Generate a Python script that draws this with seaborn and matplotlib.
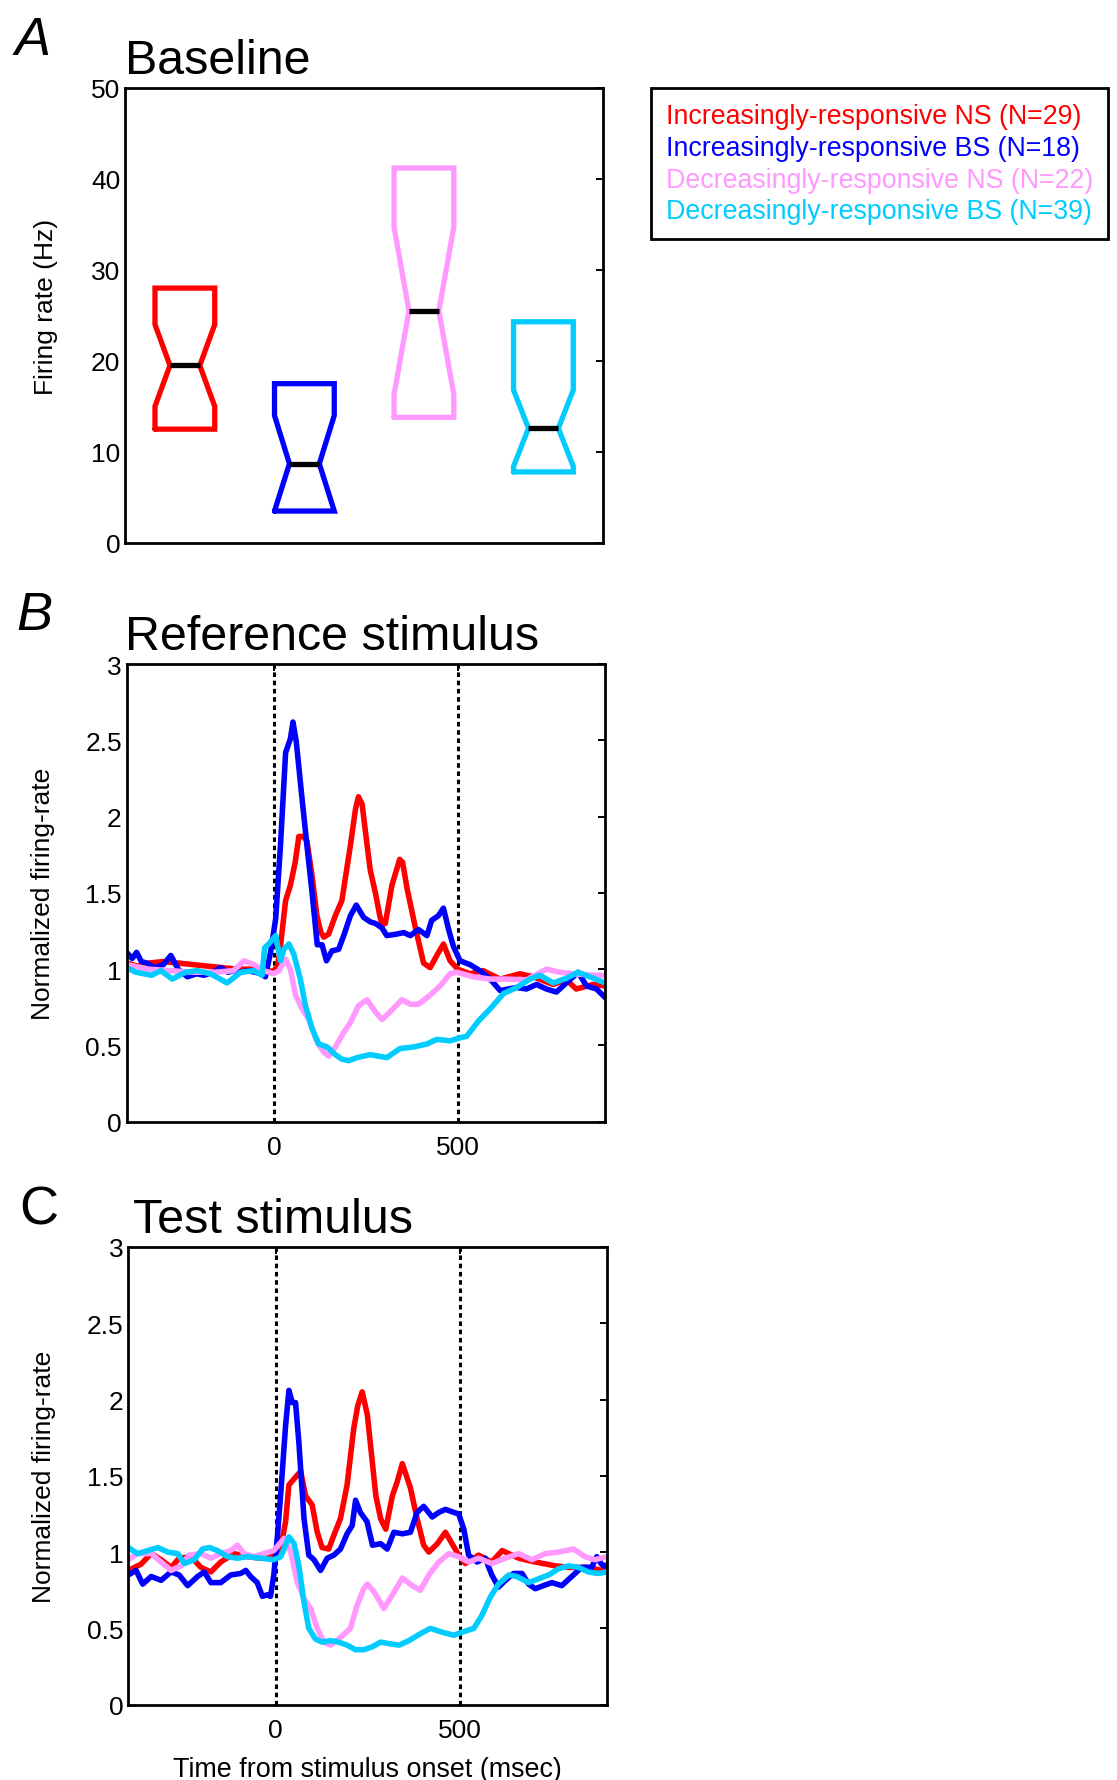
import pandas as pd
import matplotlib
matplotlib.use('Agg')
import matplotlib.pyplot as plt
from matplotlib.lines import Line2D
import seaborn as sns

# groups / colours
groups = ['Increasingly-responsive NS (N=29)',
          'Increasingly-responsive BS (N=18)',
          'Decreasingly-responsive NS (N=22)',
          'Decreasingly-responsive BS (N=39)']
colors = ['#ff0000', '#0000ff', '#ff99ff', '#00ccff']

# Panel A - baseline firing rate (notched boxes, no whiskers)
box_q1 = [12.5, 3.5, 13.8, 7.8]
box_q3 = [28.0, 17.5, 41.2, 24.3]
box_med = [19.5, 8.7, 25.5, 12.6]
box_cilo = [15.0, 3.5, 16.3, 8.4]
box_cihi = [24.0, 14.0, 34.7, 16.8]

# Panel B - reference stimulus
ref_red_t = [-400, -370, -340, -300, -260, -220, -180, -140, -100, -60, -30, 0, 10, 18, 32, 45, 58, 68, 80, 90,
             104, 117, 128, 136, 149, 167, 185, 208, 222, 230, 240, 249, 262, 276, 288, 294, 303, 321, 342, 350,
             362, 384, 407, 425, 443, 461, 479, 500, 533, 569, 615, 669, 705, 759, 795, 822, 868, 900]
ref_red_v = [1.04, 1.02, 1.04, 1.05, 1.04, 1.03, 1.02, 1.01, 1.0, 1.0, 0.98, 0.99, 1.02, 1.15, 1.45, 1.55, 1.7, 1.87, 1.87, 1.84,
             1.61, 1.35, 1.24, 1.21, 1.23, 1.35, 1.45, 1.81, 2.05, 2.13, 2.08, 1.9, 1.65, 1.50, 1.35, 1.29, 1.30, 1.55, 1.72, 1.70,
             1.53, 1.28, 1.04, 1.01, 1.09, 1.165, 1.055, 1.0, 0.97, 0.99, 0.935, 0.97, 0.95, 0.90, 0.93, 0.87, 0.90, 0.89]

ref_blue_t = [-400, -385, -373, -360, -345, -325, -300, -280, -260, -235, -210, -190, -165, -145, -125, -108, -90, -72, -50, -36,
              -23, -9, 5, 18, 32, 45, 52, 61, 77, 90, 104, 118, 131, 143, 158, 176, 190, 208, 224, 244,
              262, 276, 294, 307, 334, 353, 371, 393, 416, 429, 447, 461, 475, 488, 506, 533, 560, 588, 615, 637,
              660, 687, 714, 741, 768, 795, 827, 850, 877, 900]
ref_blue_v = [1.11, 1.07, 1.11, 1.05, 1.04, 1.01, 1.03, 1.09, 1.0, 0.95, 0.97, 0.96, 0.98, 1.01, 0.98, 0.99, 0.98, 0.99, 0.98, 0.97,
              0.95, 1.11, 1.33, 1.81, 2.42, 2.51, 2.62, 2.49, 2.11, 1.81, 1.50, 1.16, 1.16, 1.055, 1.12, 1.13, 1.22, 1.35, 1.42, 1.34,
              1.31, 1.30, 1.27, 1.22, 1.23, 1.24, 1.22, 1.26, 1.22, 1.32, 1.35, 1.40, 1.26, 1.15, 1.055, 1.03, 0.99, 0.935, 0.86, 0.87,
              0.88, 0.87, 0.90, 0.87, 0.85, 0.91, 0.98, 0.89, 0.87, 0.815]

ref_pink_t = [-400, -340, -280, -220, -160, -110, -81, -54, -27, 0, 14, 32, 45, 59, 77, 95, 118, 136, 149, 167,
              190, 208, 230, 253, 276, 294, 316, 348, 371, 393, 425, 452, 479, 497, 542, 588, 633, 687, 741, 777,
              814, 868, 900]
ref_pink_v = [1.03, 1.0, 0.99, 0.98, 0.98, 0.99, 1.055, 1.03, 0.99, 0.97, 0.99, 1.066, 1.0, 0.83, 0.74, 0.67, 0.52, 0.455, 0.43, 0.49,
              0.585, 0.65, 0.76, 0.80, 0.72, 0.67, 0.72, 0.80, 0.77, 0.77, 0.83, 0.89, 0.97, 0.98, 0.95, 0.935, 0.935, 0.93, 1.0, 0.98,
              0.97, 0.96, 0.96]

ref_cyan_t = [-400, -375, -332, -307, -276, -240, -208, -172, -127, -90, -54, -32, -25, -14, 5, 18, 27, 41, 54, 72,
              86, 104, 122, 145, 167, 185, 203, 226, 262, 307, 343, 380, 416, 443, 479, 506, 524, 556, 588, 624,
              660, 696, 723, 759, 795, 827, 859, 900]
ref_cyan_v = [1.01, 0.98, 0.96, 0.99, 0.935, 0.98, 0.99, 0.97, 0.91, 0.98, 0.99, 0.96, 1.14, 1.165, 1.22, 1.055, 1.13, 1.165, 1.10, 0.935,
              0.76, 0.61, 0.51, 0.49, 0.44, 0.41, 0.40, 0.42, 0.44, 0.42, 0.48, 0.49, 0.51, 0.54, 0.53, 0.55, 0.56, 0.66, 0.74, 0.84,
              0.88, 0.935, 0.96, 0.91, 0.94, 0.98, 0.95, 0.91]

# Panel C - test stimulus
test_red_t = [-400, -366, -338, -311, -284, -262, -230, -203, -176, -149, -113, -77, -41, -5, 14, 27, 36, 50, 68, 81,
              99, 113, 126, 144, 158, 176, 194, 212, 223, 235, 249, 272, 285, 299, 317, 330, 344, 366, 384, 402,
              416, 439, 461, 479, 497, 515, 551, 587, 615, 660, 705, 759, 795, 849, 885, 900]
test_red_v = [0.88, 0.92, 0.99, 0.95, 0.90, 0.96, 0.97, 0.90, 0.87, 0.935, 0.99, 0.97, 0.96, 0.98, 1.03, 1.20, 1.44, 1.48, 1.53, 1.37,
              1.31, 1.13, 1.03, 1.02, 1.11, 1.22, 1.44, 1.81, 1.96, 2.05, 1.90, 1.37, 1.22, 1.15, 1.37, 1.46, 1.58, 1.42, 1.22, 1.045,
              1.0, 1.055, 1.13, 1.055, 0.98, 0.925, 0.98, 0.935, 1.01, 0.96, 0.935, 0.91, 0.90, 0.90, 0.88, 0.92]

test_blue_t = [-400, -379, -361, -338, -311, -284, -262, -239, -212, -194, -176, -149, -122, -95, -81, -68, -50, -36, -23, -14,
               -5, 5, 14, 27, 36, 45, 54, 63, 77, 90, 104, 122, 140, 158, 176, 194, 208, 217, 230, 248,
               263, 285, 303, 321, 344, 366, 384, 402, 425, 443, 461, 484, 497, 511, 524, 547, 569, 587, 605, 624,
               646, 669, 687, 705, 727, 750, 777, 804, 831, 858, 872, 885, 900]
test_blue_v = [0.85, 0.88, 0.79, 0.84, 0.815, 0.87, 0.85, 0.78, 0.84, 0.87, 0.80, 0.80, 0.85, 0.86, 0.88, 0.84, 0.80, 0.71, 0.72, 0.71,
               0.85, 1.11, 1.39, 1.83, 2.06, 1.98, 1.98, 1.72, 1.22, 0.98, 0.95, 0.88, 0.96, 0.98, 1.02, 1.12, 1.175, 1.34, 1.26, 1.2,
               1.045, 1.055, 1.02, 1.13, 1.12, 1.13, 1.26, 1.30, 1.23, 1.26, 1.28, 1.26, 1.25, 1.15, 0.98, 0.935, 0.96, 0.85, 0.77, 0.815,
               0.86, 0.86, 0.79, 0.76, 0.78, 0.80, 0.78, 0.84, 0.90, 0.90, 0.97, 0.92, 0.90]

test_pink_t = [-400, -375, -338, -311, -284, -257, -235, -203, -176, -149, -122, -104, -86, -59, -32, -5, 23, 41, 59, 77,
               95, 113, 131, 149, 176, 203, 221, 239, 249, 267, 294, 317, 344, 371, 393, 416, 443, 470, 497, 524,
               551, 587, 624, 660, 696, 732, 768, 809, 840, 867, 900]
test_pink_v = [0.95, 0.99, 0.99, 0.935, 0.88, 0.91, 0.98, 0.99, 0.96, 0.99, 1.01, 1.045, 0.99, 0.97, 0.99, 1.01, 1.09, 1.0, 0.80, 0.695,
               0.63, 0.50, 0.41, 0.39, 0.44, 0.50, 0.65, 0.76, 0.79, 0.74, 0.63, 0.72, 0.83, 0.78, 0.75, 0.85, 0.935, 0.99, 0.97, 0.935,
               0.96, 0.925, 0.96, 0.99, 0.95, 0.99, 1.0, 1.02, 0.97, 0.95, 0.97]

test_cyan_t = [-400, -375, -347, -320, -293, -266, -248, -221, -199, -180, -158, -131, -104, -77, -41, -5, 14, 36, 50, 63,
               77, 90, 108, 126, 149, 171, 194, 217, 239, 263, 285, 308, 335, 362, 393, 420, 452, 484, 506, 538,
               560, 583, 605, 633, 655, 687, 714, 741, 768, 795, 822, 849, 876, 900]
test_cyan_v = [1.03, 0.99, 1.01, 1.03, 1.0, 0.99, 0.925, 0.95, 1.02, 1.03, 1.01, 0.97, 0.96, 0.97, 0.96, 0.95, 0.97, 1.10, 1.055, 0.91,
               0.67, 0.50, 0.43, 0.41, 0.42, 0.41, 0.39, 0.36, 0.36, 0.38, 0.41, 0.40, 0.39, 0.42, 0.465, 0.50, 0.475, 0.455, 0.475, 0.50,
               0.585, 0.705, 0.79, 0.85, 0.84, 0.80, 0.825, 0.85, 0.89, 0.91, 0.90, 0.87, 0.86, 0.87]

x_ticks = [0, 500]
y_ticks_rate = [0, 0.5, 1, 1.5, 2, 2.5, 3]
y_tick_labels_rate = ['0', '0.5', '1', '1.5', '2', '2.5', '3']


def traces_frame(pairs):
    parts = []
    for name, (t, v) in zip(groups, pairs):
        parts.append(pd.DataFrame({'t': t, 'rate': v, 'group': name}))
    return pd.concat(parts, ignore_index=True)


df_ref = traces_frame([(ref_red_t, ref_red_v), (ref_blue_t, ref_blue_v),
                       (ref_pink_t, ref_pink_v), (ref_cyan_t, ref_cyan_v)])
df_test = traces_frame([(test_red_t, test_red_v), (test_blue_t, test_blue_v),
                        (test_pink_t, test_pink_v), (test_cyan_t, test_cyan_v)])

sns.set_theme(style='white')
plt.rcParams['font.family'] = ['Liberation Sans', 'DejaVu Sans']
plt.rcParams['text.color'] = 'black'
plt.rcParams['axes.labelcolor'] = 'black'
plt.rcParams['xtick.color'] = 'black'
plt.rcParams['ytick.color'] = 'black'

fig = plt.figure(figsize=(11.17, 17.81), dpi=100)
ax_a = fig.add_axes([0.112, 0.6946, 0.428, 0.2555])
ax_b = fig.add_axes([0.1134, 0.3696, 0.4282, 0.2570])
ax_c = fig.add_axes([0.1149, 0.0423, 0.4286, 0.2570])

tick_fs = 19
title_fs = 34.8
letter_fs = 39
line_w = 4.0


def style_axes(ax):
    for s in ax.spines.values():
        s.set_visible(True)
        s.set_linewidth(2)
        s.set_color('black')
    ax.tick_params(direction='in', length=5, width=1.4, right=True, top=True,
                   labelsize=tick_fs)
    ax.tick_params(axis='y', pad=3.5)
    ax.tick_params(axis='x', pad=9.5)


# ---- Panel A ----
stats = []
for i in range(4):
    stats.append(dict(med=box_med[i], q1=box_q1[i], q3=box_q3[i],
                      whislo=box_q1[i], whishi=box_q3[i],
                      cilo=box_cilo[i], cihi=box_cihi[i], fliers=[]))
bp = ax_a.bxp(stats, positions=[1, 2, 3, 4], widths=0.5, shownotches=True,
              showfliers=False, showcaps=False, patch_artist=False,
              whiskerprops=dict(linewidth=0),
              medianprops=dict(color='black', linewidth=3.8, solid_capstyle='butt'))
for box, c in zip(bp['boxes'], colors):
    box.set_color(c)
    box.set_linewidth(3.8)
    box.set_solid_joinstyle('miter')
ax_a.set_xlim(0.5, 4.5)
ax_a.set_ylim(0, 50)
ax_a.set_yticks([0, 10, 20, 30, 40, 50])
ax_a.set_xticks([])
style_axes(ax_a)
ax_a.set_ylabel('Firing rate (Hz)', fontsize=tick_fs, labelpad=24)
ax_a.yaxis.label.set_y(0.52)
ax_a.set_title('Baseline', loc='left', fontsize=title_fs, pad=11)

handles = [Line2D([], [], linewidth=0) for _ in groups]
leg = fig.legend(handles, groups, loc='upper left', bbox_to_anchor=(0.583, 0.950),
                 borderaxespad=0, frameon=True, fancybox=False, edgecolor='black', framealpha=1,
                 handlelength=0, handletextpad=0, labelcolor=colors,
                 fontsize=19.3, borderpad=0.55, labelspacing=0.22)
leg.get_frame().set_linewidth(2)

# ---- Panels B and C ----
for ax, df, title, tx in [(ax_b, df_ref, 'Reference stimulus', -0.004),
                          (ax_c, df_test, 'Test stimulus', 0.009)]:
    ax.axvline(0, color='black', linewidth=2.2, dashes=(1.5, 1.2), zorder=1)
    ax.axvline(500, color='black', linewidth=2.2, dashes=(1.5, 1.2), zorder=1)
    sns.lineplot(data=df, x='t', y='rate', hue='group', hue_order=groups, palette=colors,
                 linewidth=line_w, errorbar=None, legend=False, ax=ax)
    ax.set_xlim(-400, 900)
    ax.set_ylim(0, 3)
    ax.set_xticks(x_ticks)
    ax.set_xticklabels([str(x) for x in x_ticks])
    ax.set_yticks(y_ticks_rate)
    ax.set_yticklabels(y_tick_labels_rate)
    style_axes(ax)
    ax.set_ylabel('Normalized firing-rate', fontsize=tick_fs, labelpad=22)
    ax.set_xlabel('')
    ax.set_title(title, loc='left', fontsize=title_fs, pad=11, x=tx)

ax_c.set_xlabel('Time from stimulus onset (msec)', fontsize=19.4, labelpad=10)

# panel letters
fig.text(0.013, 0.969, 'A', fontsize=letter_fs, style='italic', va='baseline')
fig.text(0.015, 0.6463, 'B', fontsize=letter_fs, style='italic', va='baseline')
fig.text(0.017, 0.3122, 'C', fontsize=letter_fs, va='baseline')

fig.savefig('out.png', dpi=100)
